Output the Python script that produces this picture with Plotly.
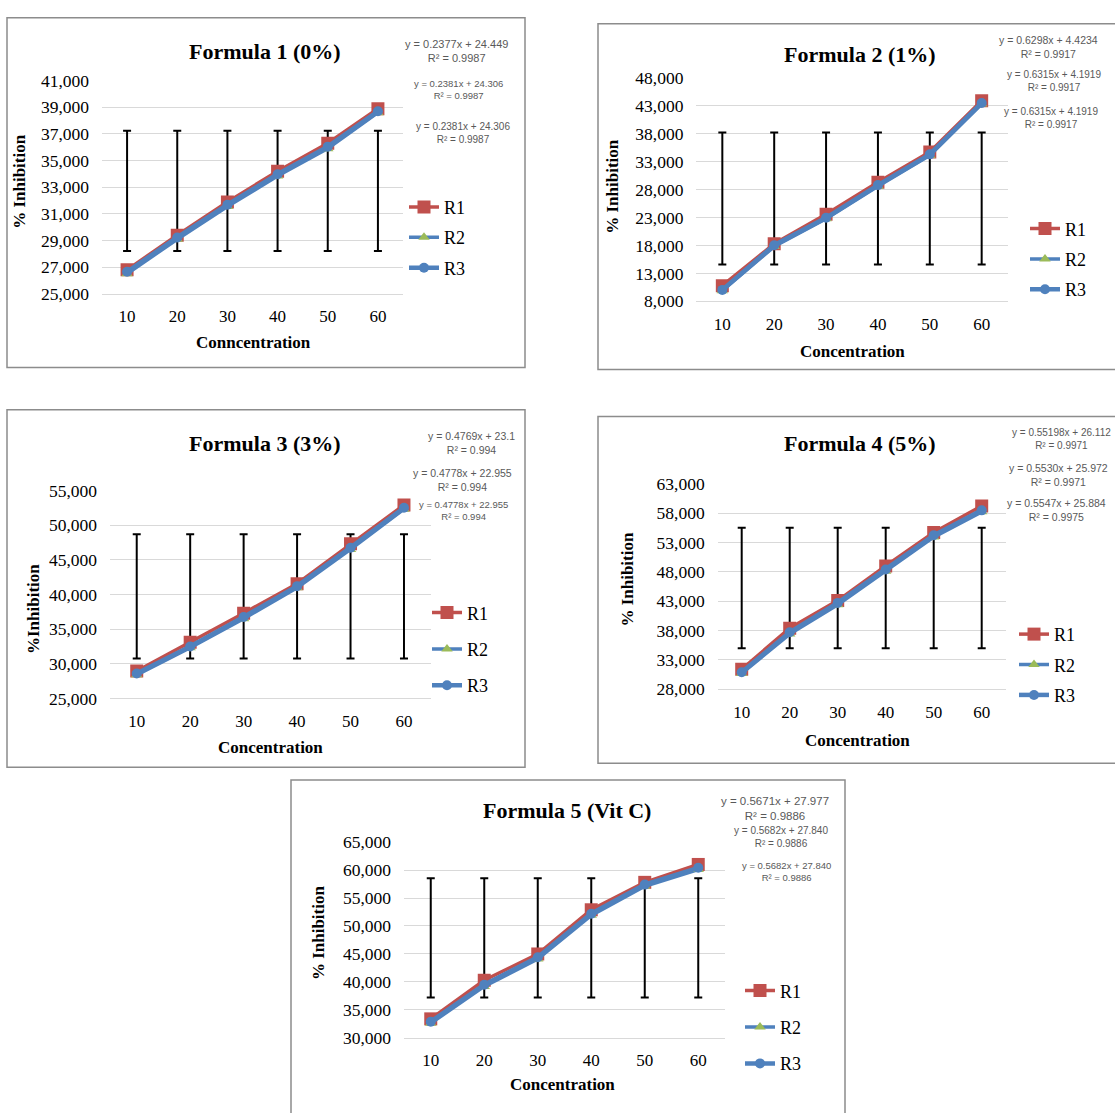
import plotly.graph_objects as go

W, H = 1115, 1113

concentration = [10, 20, 30, 40, 50, 60]

# Formula 1 (0%)
f1_r1 = [26.8, 29.4, 31.9, 34.2, 36.3, 38.9]
f1_r2 = [26.5, 29.1, 31.55, 33.85, 35.9, 38.6]
f1_r3 = [26.65, 29.23, 31.69, 33.98, 36.05, 38.7]
f1_err = [28.22, 37.25]
# Formula 2 (1%)
f2_r1 = [10.8, 18.3, 23.6, 29.3, 34.7, 43.9]
f2_r2 = [9.9, 17.8, 22.8, 28.6, 34.1, 43.3]
f2_r3 = [10.05, 18.05, 22.95, 28.8, 34.3, 43.5]
f2_err = [14.6, 38.2]
# Formula 3 (3%)
f3_r1 = [28.95, 33.1, 37.3, 41.55, 47.3, 52.9]
f3_r2 = [28.4, 32.3, 36.5, 40.95, 46.5, 52.3]
f3_r3 = [28.6, 32.5, 36.75, 41.2, 46.75, 52.5]
f3_err = [30.75, 48.7]
# Formula 4 (5%)
f4_r1 = [31.4, 38.4, 43.1, 49.0, 54.7, 59.2]
f4_r2 = [30.7, 37.4, 42.4, 48.1, 53.9, 58.2]
f4_r3 = [30.9, 37.7, 42.7, 48.4, 54.2, 58.45]
f4_err = [35.0, 55.5]
# Formula 5 (Vit C)
f5_r1 = [33.4, 40.3, 45.0, 52.9, 57.8, 61.0]
f5_r2 = [32.6, 39.2, 44.1, 51.9, 57.1, 60.1]
f5_r3 = [32.9, 39.5, 44.4, 52.2, 57.4, 60.4]
f5_err = [37.2, 58.55]

titles = ["Formula 1 (0%)", "Formula 2 (1%)", "Formula 3 (3%)", "Formula 4 (5%)", "Formula 5 (Vit C)"]
xtitles = ["Conncentration", "Concentration", "Concentration", "Concentration", "Concentration"]
ytitles = ["% Inhibition", "% Inhibition", "%Inhibition", "% Inhibition", "% Inhibition"]
y_ranges = [[25, 41], [8, 48], [25, 55], [28, 63], [30, 65]]
y_dticks = [2, 5, 5, 5, 5]
equations = [
    ["y = 0.2377x + 24.449<br>R² = 0.9987", "y = 0.2381x + 24.306<br>R² = 0.9987", "y = 0.2381x + 24.306<br>R² = 0.9987"],
    ["y = 0.6298x + 4.4234<br>R² = 0.9917", "y = 0.6315x + 4.1919<br>R² = 0.9917", "y = 0.6315x + 4.1919<br>R² = 0.9917"],
    ["y = 0.4769x + 23.1<br>R² = 0.994", "y = 0.4778x + 22.955<br>R² = 0.994", "y = 0.4778x + 22.955<br>R² = 0.994"],
    ["y = 0.55198x + 26.112<br>R² = 0.9971", "y = 0.5530x + 25.972<br>R² = 0.9971", "y = 0.5547x + 25.884<br>R² = 0.9975"],
    ["y = 0.5671x + 27.977<br>R² = 0.9886", "y = 0.5682x + 27.840<br>R² = 0.9886", "y = 0.5682x + 27.840<br>R² = 0.9886"],
]
series = [
    (f1_r1, f1_r2, f1_r3, f1_err),
    (f2_r1, f2_r2, f2_r3, f2_err),
    (f3_r1, f3_r2, f3_r3, f3_err),
    (f4_r1, f4_r2, f4_r3, f4_err),
    (f5_r1, f5_r2, f5_r3, f5_err),
]


def fx(px):
    return px / W


def fy(py):
    return 1 - py / H


# layout geometry (pixels)
plot_x = [(102, 403), (696.4, 1007.6), (110, 430.7), (717.7, 1005.7), (404, 725)]
plot_y = [(72, 289), (69, 296.7), (489.3, 701), (482.3, 691.7), (847.3, 1046.7)]
boxes = [(7, 8, 525, 364), (598, 14, 1135, 366), (7, 407, 525, 771), (598, 414, 1135, 767), (291, 784, 845, 1130)]
title_pos = [(265, 42), (860, 45), (265, 441), (860, 441), (567, 815)]
xt_pos = [(253, 339), (852, 348), (270, 751), (857, 744), (563, 1094)]
yt_pos = [(20, 175), (613, 180), (33, 610), (628, 580), (318, 940)]
legend_pos = [(404, 182), (1025, 204), (427, 595), (1014, 617), (740, 980)]
legend_gap = [4, 4, 10, 4, 10]
eq_pos = [
    [(457, 26), (458, 67), (463, 111)],
    [(997, 22, 'left'), (1005, 58, 'left'), (1002, 96, 'left')],
    [(471, 426), (462, 463), (463, 496)],
    [(1010, 423, 'left'), (1007, 458, 'left'), (1005, 494, 'left')],
    [(775, 797), (781, 828), (786, 864)],
]
eq_size = [[11, 9.5, 10], [10.5, 10, 10], [10.5, 10.5, 9.5], [10, 10.5, 10.5], [11.5, 10, 9.5]]

RED = "#C0504D"
BLUE = "#4F81BD"
GREEN = "#9BBB59"
SERIF = "Liberation Serif, Times New Roman, serif"
SANS = "Liberation Sans, Arial, sans-serif"

fig = go.Figure()
layout = dict(
    width=W, height=H, margin=dict(l=0, r=0, t=0, b=0),
    paper_bgcolor="white", plot_bgcolor="white",
    separators=",.", showlegend=True,
)
annotations = []
shapes = []

for i in range(5):
    r1, r2, r3, err = series[i]
    n = "" if i == 0 else str(i + 1)
    xa, ya = "x" + n, "y" + n
    lg = "legend" + n
    center = [(err[0] + err[1]) / 2] * len(concentration)
    half = [(err[1] - err[0]) / 2] * len(concentration)
    fig.add_trace(go.Scatter(
        x=concentration, y=center, mode="markers",
        marker=dict(size=1, color="rgba(0,0,0,0)"),
        error_y=dict(type="data", array=half, visible=True, color="black", thickness=2, width=4),
        showlegend=False, hoverinfo="skip", xaxis=xa, yaxis=ya))
    fig.add_trace(go.Scatter(
        x=concentration, y=r1, mode="lines+markers", name="R1",
        line=dict(color=RED, width=3.5), marker=dict(symbol="square", size=13, color=RED),
        xaxis=xa, yaxis=ya, legend=lg, legendgroup=f"g{i}a"))
    fig.add_trace(go.Scatter(
        x=concentration, y=r2, mode="lines+markers", name="R2",
        line=dict(color=BLUE, width=3.5), marker=dict(symbol="triangle-up", size=10, color=GREEN),
        xaxis=xa, yaxis=ya, legend=lg, legendgroup=f"g{i}b"))
    fig.add_trace(go.Scatter(
        x=concentration, y=r3, mode="lines+markers", name="R3",
        line=dict(color=BLUE, width=4.5), marker=dict(symbol="circle", size=10, color=BLUE),
        xaxis=xa, yaxis=ya, legend=lg, legendgroup=f"g{i}c"))

    (x0, x1), (y0, y1) = plot_x[i], plot_y[i]
    layout["xaxis" + n] = dict(
        domain=[fx(x0), fx(x1)], anchor=ya, range=[5, 65],
        tickvals=concentration, ticktext=[str(c) for c in concentration],
        showgrid=False, zeroline=False, showline=True, linecolor="#D9D9D9", linewidth=1,
        ticks="", tickfont=dict(family=SERIF, size=17, color="black"), ticklabelstandoff=7,
    )
    layout["yaxis" + n] = dict(
        domain=[fy(y1), fy(y0)], anchor=xa, range=y_ranges[i], dtick=y_dticks[i], tick0=y_ranges[i][0],
        tickformat=".3f", showgrid=True, gridcolor="#D9D9D9", gridwidth=1,
        zeroline=False, showline=False, ticks="",
        tickfont=dict(family=SERIF, size=17.5, color="black"), ticklabelstandoff=12,
    )
    lx, ly = legend_pos[i]
    layout[lg] = dict(
        x=fx(lx), y=fy(ly), xanchor="left", yanchor="top", xref="paper", yref="paper",
        bgcolor="rgba(0,0,0,0)", borderwidth=0, tracegroupgap=legend_gap[i],
        font=dict(family=SERIF, size=18, color="black"), itemwidth=30,
    )
    bx0, by0, bx1, by1 = boxes[i]
    shapes.append(dict(type="rect", xref="paper", yref="paper",
                       x0=fx(bx0), x1=fx(bx1), y0=fy(by1), y1=fy(by0),
                       line=dict(color="#8C8C8C", width=1.5), fillcolor="rgba(0,0,0,0)", layer="below"))
    tx, ty = title_pos[i]
    annotations.append(dict(text=f"<b>{titles[i]}</b>", x=fx(tx), y=fy(ty), xref="paper", yref="paper",
                            showarrow=False, xanchor="center", yanchor="middle",
                            font=dict(family=SERIF, size=22, color="black")))
    tx, ty = xt_pos[i]
    annotations.append(dict(text=f"<b>{xtitles[i]}</b>", x=fx(tx), y=fy(ty), xref="paper", yref="paper",
                            showarrow=False, xanchor="center", yanchor="middle",
                            font=dict(family=SERIF, size=17, color="black")))
    tx, ty = yt_pos[i]
    annotations.append(dict(text=f"<b>{ytitles[i]}</b>", x=fx(tx), y=fy(ty), xref="paper", yref="paper",
                            showarrow=False, xanchor="center", yanchor="middle", textangle=-90,
                            font=dict(family=SERIF, size=17, color="black")))
    for j, eq in enumerate(equations[i]):
        p = eq_pos[i][j]
        anchor = p[2] if len(p) > 2 else "center"
        annotations.append(dict(text=eq, x=fx(p[0]), y=fy(p[1]), xref="paper", yref="paper",
                                showarrow=False, xanchor=anchor, yanchor="top", align="center",
                                font=dict(family=SANS, size=eq_size[i][j], color="#595959")))

layout["annotations"] = annotations
layout["shapes"] = shapes
fig.update_layout(**layout)

fig.write_html(
    "out.html",
    config={"displayModeBar": False},
    post_script="document.body.style.margin='0';document.body.style.overflow='hidden';",
)
